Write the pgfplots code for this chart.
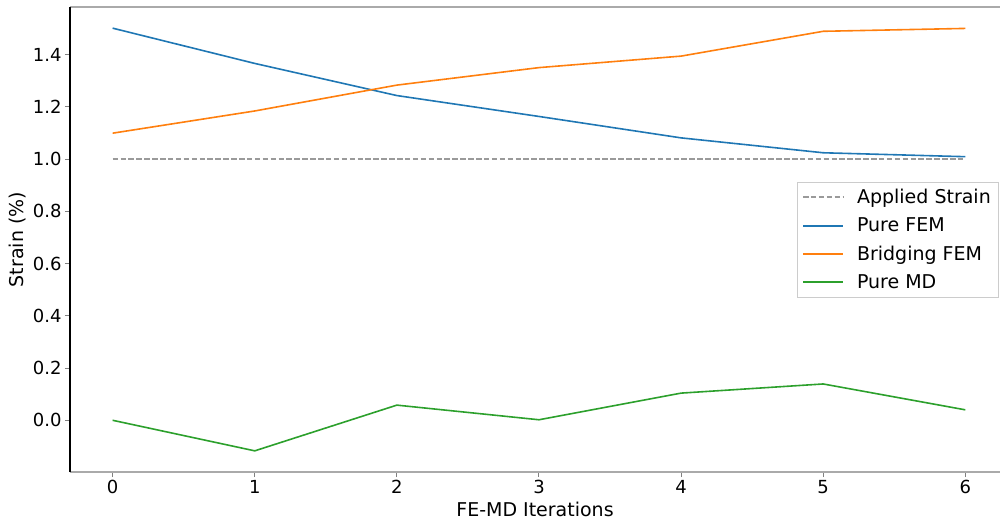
\documentclass[border=0pt]{standalone}
\usepackage{pgfplots}
\pgfplotsset{compat=1.18}
\usepackage{fontspec}
\setmainfont{DejaVu Sans}
\definecolor{tabblue}{HTML}{1F77B4}
\definecolor{taborange}{HTML}{FF7F0E}
\definecolor{tabgreen}{HTML}{2CA02C}
\definecolor{spinegray}{HTML}{AAAAAA}
\definecolor{leggray}{HTML}{CCCCCC}
\definecolor{dashgray}{HTML}{9A9A9A}
\begin{document}
\begin{tikzpicture}
\begin{axis}[
  scale only axis,
  width=930pt, height=465pt,
  at={(0,0)}, anchor=south west,
  xmin=-0.30, xmax=6.244,
  ymin=-0.198, ymax=1.582,
  axis x line=box, axis y line=left,
  x axis line style={spinegray, line width=1.2pt, -},
  y axis line style={black, line width=1.2pt, -},
  xtick={0,1,2,3,4,5,6},
  ytick={0,0.2,0.4,0.6,0.8,1.0,1.2,1.4},
  xtick pos=bottom, ytick pos=left,
  tick align=outside,
  major tick length=5pt,
  every tick/.style={color=gray, line width=1pt},
  /pgf/number format/assume math mode=true,
  yticklabel style={/pgf/number format/fixed, /pgf/number format/fixed zerofill, /pgf/number format/precision=1},
  ticklabel style={font=\fontsize{18}{21.6}\selectfont},
  label style={font=\fontsize{19}{22.8}\selectfont},
  xlabel={FE-MD Iterations},
  ylabel={Strain (\%)},
  xlabel style={yshift=-1pt},
  legend cell align=left,
  legend image code/.code={%
    \draw[#1, line width=2pt] (0pt,0pt) -- (40pt,0pt);},
  legend style={at={(1,0.5)}, anchor=east, xshift=-2pt,
    draw=leggray,
    nodes={font=\fontsize{19}{22.8}\selectfont},
    /tikz/every odd column/.append style={column sep=11pt},
    row sep=8.5pt, inner xsep=5pt, inner ysep=5.5pt},
]
\addplot[color=dashgray, line width=1.4pt, dash pattern=on 5.5pt off 2.4pt] coordinates {(0,1.0) (6,1.0)};
\addplot[color=tabblue, line width=1.6pt] coordinates {
(0,1.501) (1,1.366) (2,1.243) (3,1.163) (4,1.081) (5,1.024) (6,1.009)};
\addplot[color=taborange, line width=1.6pt] coordinates {
(0,1.099) (1,1.184) (2,1.283) (3,1.350) (4,1.394) (5,1.489) (6,1.500)};
\addplot[color=tabgreen, line width=1.6pt] coordinates {
(0,0.0) (1,-0.117) (2,0.058) (3,0.002) (4,0.104) (5,0.139) (6,0.040)};
\legend{Applied Strain, Pure FEM, Bridging FEM, Pure MD}
\end{axis}
\pgfresetboundingbox
\path (-70pt,-51pt) rectangle (930pt,472pt);
\end{tikzpicture}
\end{document}
